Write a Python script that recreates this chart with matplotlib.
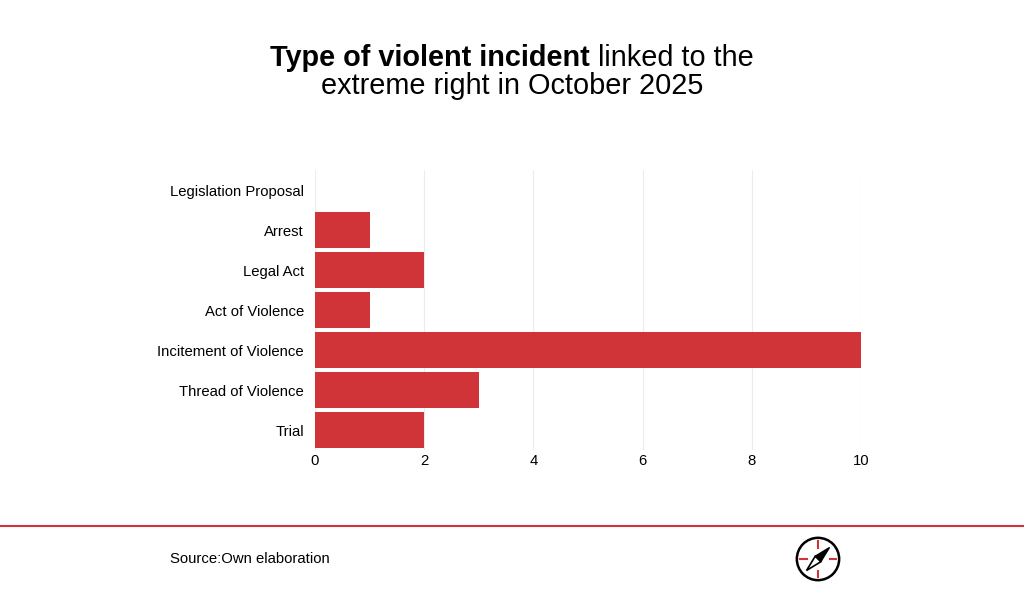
import matplotlib.pyplot as plt
from matplotlib.patches import Circle
from matplotlib.lines import Line2D

plt.rcParams['font.family'] = ['Liberation Sans', 'DejaVu Sans']

categories = ["Legislation Proposal", "Arrest", "Legal Act", "Act of Violence",
              "Incitement of Violence", "Thread of Violence", "Trial"]
counts = [0, 1, 2, 1, 10, 3, 2]
ticks = [0, 2, 4, 6, 8, 10]
red = "#d13438"

fig = plt.figure(figsize=(10.24, 5.94), dpi=100)
ax = fig.add_axes([0.3076, 0.2424, 0.5332, 0.4714])

ypos = list(range(len(categories)))[::-1]
ax.barh(ypos, counts, height=0.9, color=red, linewidth=0)
ax.set_yticks(ypos)
ax.set_yticklabels(categories, fontsize=10.7)
ax.set_xticks(ticks)
ax.set_xticklabels([str(t) for t in ticks], fontsize=10.7)
ax.set_xlim(0, 10)
ax.set_ylim(-0.5, 6.5)
ax.tick_params(axis='y', length=0, pad=8)
ax.tick_params(axis='x', length=0, pad=3)
ax.grid(axis='x', color='#ececec', linewidth=0.8)
ax.set_axisbelow(True)
for s in ax.spines.values():
    s.set_visible(False)

# title: bold first part, regular rest on line 1
fig.canvas.draw()
r = fig.canvas.get_renderer()
t1 = fig.text(0, 1 - 58 / 594, "Type of violent incident", fontsize=20.8,
              fontweight='bold', va='center', ha='left')
t2 = fig.text(0, 1 - 58 / 594, " linked to the", fontsize=20.8, va='center', ha='left')
w1 = t1.get_window_extent(r).width / 1024
w2 = t2.get_window_extent(r).width / 1024
x0 = 0.5 - (w1 + w2) / 2
t1.set_x(x0)
t2.set_x(x0 + w1)
fig.text(0.5, 1 - 86 / 594, "extreme right in October 2025", fontsize=20.8,
         va='center', ha='center')

# footer
fig.add_artist(Line2D([0, 1], [1 - 526 / 594] * 2, color=red, linewidth=1.5))
fig.text(170 / 1024, 1 - 559 / 594, "Source:Own elaboration", fontsize=10.7, va='center')

# compass logo
lax = fig.add_axes([795 / 1024, 1 - 582 / 594, 46 / 1024, 46 / 594])
lax.set_xlim(-1, 1)
lax.set_ylim(-1, 1)
lax.set_aspect('equal')
lax.axis('off')
lax.add_patch(Circle((0, 0), 0.92, fill=False, lw=1.8, color='black'))
for (a, b) in [((0, 0.5), (0, 0.8)), ((0, -0.5), (0, -0.8)),
               ((0.5, 0), (0.8, 0)), ((-0.5, 0), (-0.8, 0))]:
    lax.plot([a[0], b[0]], [a[1], b[1]], color=red, lw=1.5)
lax.fill([0.5, 0.12, -0.12], [0.5, -0.12, 0.12], color='black')
lax.fill([-0.5, 0.12, -0.12], [-0.5, -0.12, 0.12], facecolor='white', edgecolor='black', lw=1.2)

fig.savefig("out.png", dpi=100)
